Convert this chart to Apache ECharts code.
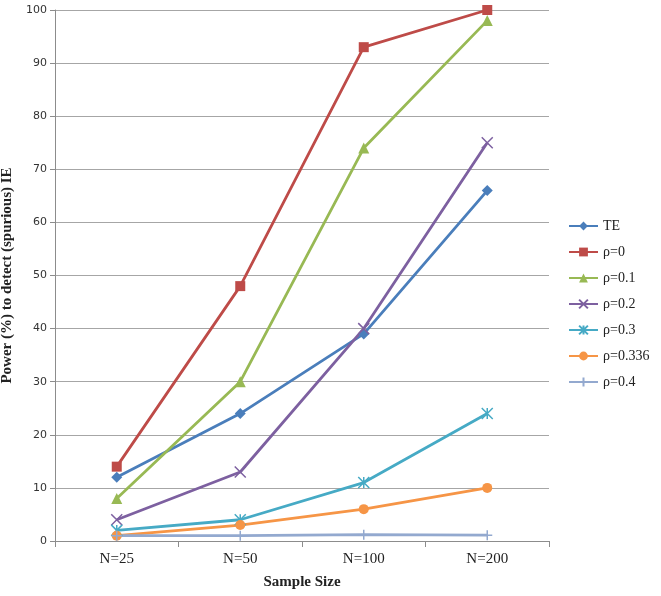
<!DOCTYPE html>
<html><head><meta charset="utf-8">
<script src="https://cdn.jsdelivr.net/npm/echarts@6/dist/echarts.min.js"></script>
<style>html,body{margin:0;padding:0;background:#fff}#c{width:661px;height:596px}</style>
</head><body><div id="c"></div>
<script>
const categories = ['N=25','N=50','N=100','N=200'];
const seriesNames = ['TE','ρ=0','ρ=0.1','ρ=0.2','ρ=0.3','ρ=0.336','ρ=0.4'];
const TE = [12, 24, 39, 66];
const rho0 = [14, 48, 93, 100];
const rho01 = [8, 30, 74, 98];
const rho02 = [4, 13, 40, 75];
const rho03 = [2, 4, 11, 24];
const rho0336 = [1, 3, 6, 10];
const rho04 = [1, 1, 1.2, 1.1];
const yTicks = [0,10,20,30,40,50,60,70,80,90,100];

const values = [TE, rho0, rho01, rho02, rho03, rho0336, rho04];
const colors = ['#4A7EBB','#BE4B48','#98B954','#7D60A0','#46AAC5','#F69546','#93A9CF'];
const symbols = ['diamond','rect','triangle',
  'path://M0,0L10,10M10,0L0,10',
  'path://M0,0L10,10M10,0L0,10M5,0L5,10',
  'circle',
  'path://M5,0L5,10M0,5L10,5'];
const sizes = [11,10,11,11,11,10,10];

const chart = echarts.init(document.getElementById('c'));
chart.setOption({
  animation:false,
  grid:{left:55, top:10, right:112, bottom:55, outerBoundsMode:'none'},
  legend:{
    orient:'vertical', left:563, top:214, itemGap:12, itemWidth:29, itemHeight:11,
    textStyle:{fontFamily:'Liberation Serif', fontSize:14, color:'#222'},
    data:seriesNames
  },
  xAxis:{
    type:'category', data:categories, boundaryGap:true,
    axisLine:{lineStyle:{color:'#8c8c8c'}},
    axisTick:{show:true, length:6, lineStyle:{color:'#8c8c8c'}},
    axisLabel:{fontFamily:'Liberation Serif', fontSize:15, color:'#222', margin:11},
    name:'Sample Size', nameLocation:'middle', nameGap:34,
    nameTextStyle:{fontFamily:'Liberation Serif', fontSize:15, fontWeight:'bold', color:'#222'}
  },
  yAxis:{
    type:'value', min:0, max:100, interval:10,
    axisLine:{show:true, lineStyle:{color:'#8c8c8c'}},
    axisTick:{show:true, length:5, lineStyle:{color:'#8c8c8c'}},
    splitLine:{lineStyle:{color:'#a6a6a6', width:1}},
    axisLabel:{fontFamily:'DejaVu Sans', fontSize:11, color:'#333', margin:8,
      formatter:v=>yTicks.includes(v)?String(v):''},
    name:'Power (%) to detect (spurious) IE', nameLocation:'middle', nameGap:37,
    nameTextStyle:{fontFamily:'Liberation Serif', fontSize:15, fontWeight:'bold', color:'#222'}
  },
  series: seriesNames.map((n,i)=>({
    name:n, type:'line', data:values[i],
    symbol:symbols[i], symbolSize:sizes[i], showSymbol:true,
    lineStyle:{color:colors[i], width:2.8},
    itemStyle:{color:colors[i], borderColor:colors[i], borderWidth:(i===3||i===4||i===6)?1.5:0},
    emphasis:{disabled:true}
  }))
});
</script></body></html>
